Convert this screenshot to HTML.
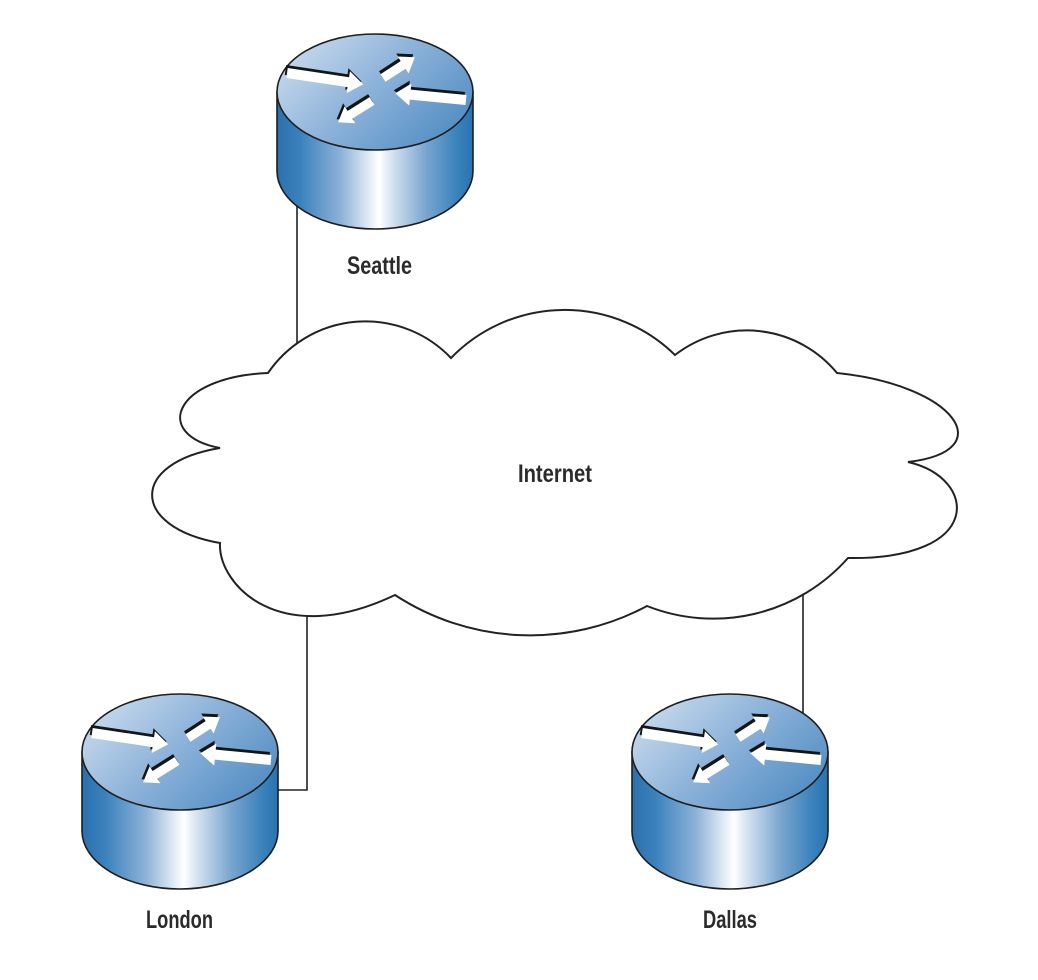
<!DOCTYPE html>
<html>
<head>
<meta charset="utf-8">
<style>
  html, body { margin: 0; padding: 0; background: #ffffff; }
  svg { display: block; }
  .lbl { font-family: "Liberation Sans Narrow", "Liberation Sans", sans-serif; font-weight: bold; font-size: 25px; fill: #2b2b2b; }
</style>
</head>
<body>
<svg width="1038" height="980" viewBox="0 0 1038 980" xmlns="http://www.w3.org/2000/svg">
  <defs>
    <linearGradient id="side" x1="0" y1="0" x2="1" y2="0">
      <stop offset="0" stop-color="#2a70ad"/>
      <stop offset="0.12" stop-color="#3b82bd"/>
      <stop offset="0.33" stop-color="#8fb3d8"/>
      <stop offset="0.47" stop-color="#e2ebf6"/>
      <stop offset="0.52" stop-color="#ffffff"/>
      <stop offset="0.58" stop-color="#d9e5f2"/>
      <stop offset="0.76" stop-color="#79a5cf"/>
      <stop offset="0.92" stop-color="#3b82bc"/>
      <stop offset="1" stop-color="#2a72b0"/>
    </linearGradient>
    <linearGradient id="topf" x1="0" y1="0.2" x2="1" y2="0.8">
      <stop offset="0" stop-color="#c9dbee"/>
      <stop offset="0.45" stop-color="#8fb4da"/>
      <stop offset="1" stop-color="#4f8bc2"/>
    </linearGradient>
    <g id="arrows">
      <polygon points="0,-5 62,-5 62,-11 77,0 62,11 62,5 0,5" transform="translate(-88,-19) rotate(8.5)"/>
      <polygon points="0,-4.5 24,-4.5 24,-10 38,0 24,10 24,4.5 0,4.5" transform="translate(8,-14) rotate(-33)"/>
      <polygon points="0,-5 56,-5 56,-11 71,0 56,11 56,5 0,5" transform="translate(91,8) rotate(185.5)"/>
      <polygon points="0,-4.5 26,-4.5 26,-10 40,0 26,10 26,4.5 0,4.5" transform="translate(-3,9) rotate(148)"/>
    </g>
    <g id="router">
      <path d="M-98,0 V79 A98,58 0 0 0 98,79 V0 Z" fill="url(#side)" stroke="#1e1e1e" stroke-width="1.6"/>
      <ellipse cx="0" cy="0" rx="98" ry="58" fill="url(#topf)" stroke="#1e1e1e" stroke-width="1.6"/>
      <use href="#arrows" transform="translate(-1.5,-3)" fill="#151515"/>
      <use href="#arrows" fill="#ffffff"/>
    </g>
  </defs>

  <!-- connectors -->
  <g stroke="#222" stroke-width="1.6" fill="none">
    <line x1="297" y1="190" x2="297" y2="345"/>
    <polyline points="307,612 307,790 276,790"/>
    <line x1="803" y1="590" x2="803" y2="716"/>
  </g>

  <!-- cloud -->
  <path d="M 268 373
           A 118 118 0 0 1 451 358
           A 158 158 0 0 1 675 355
           A 117 117 0 0 1 837 373
           C 955 385 1002 451 908 462
           C 978 478 985 560 848 558
           A 180 180 0 0 1 647 606
           A 247 247 0 0 1 395 595
           C 280 650 218 585 220 543
           C 130 527 129 463 220 448
           C 152 435 173 377 268 373 Z"
        fill="#ffffff" stroke="#222" stroke-width="2" stroke-linejoin="miter"/>

  <!-- routers -->
  <use href="#router" transform="translate(375,92)"/>
  <use href="#router" transform="translate(180,752)"/>
  <use href="#router" transform="translate(730,752)"/>

  <!-- labels -->
  <text class="lbl" x="347" y="274" textLength="65" lengthAdjust="spacingAndGlyphs">Seattle</text>
  <text class="lbl" x="518" y="482" textLength="74" lengthAdjust="spacingAndGlyphs">Internet</text>
  <text class="lbl" x="146" y="928" textLength="67" lengthAdjust="spacingAndGlyphs">London</text>
  <text class="lbl" x="703" y="928" textLength="54" lengthAdjust="spacingAndGlyphs">Dallas</text>
</svg>
</body>
</html>
